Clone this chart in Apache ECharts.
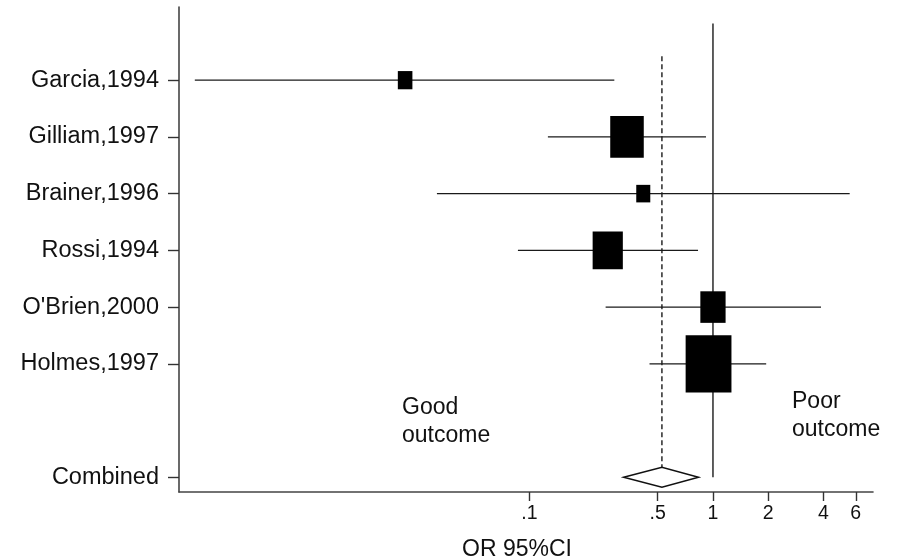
<!DOCTYPE html>
<html>
<head>
<meta charset="utf-8">
<script src="https://cdn.jsdelivr.net/npm/echarts@6/dist/echarts.min.js"></script>
<style>
  html, body { margin: 0; padding: 0; background: #fff; }
  #chart { width: 898px; height: 558px; }
</style>
</head>
<body>
<div id="chart"></div>
<script>
// Study-level odds ratios with 95% confidence intervals
const studies   = ['Garcia,1994', 'Gilliam,1997', 'Brainer,1996', 'Rossi,1994', "O'Brien,2000", 'Holmes,1997'];
const oddsRatio = [0.021, 0.340, 0.417, 0.267, 1.000, 0.946];
const lowerCI   = [0.0015, 0.126, 0.0313, 0.0865, 0.260, 0.451];
const upperCI   = [0.290, 0.916, 5.56, 0.829, 3.88, 1.95];
const weights   = [4.1, 21.7, 3.8, 17.6, 12.3, 40.5];   // percent weight of each study

// Pooled estimate
const combinedLabel = 'Combined';
const combinedOR    = 0.527;
const combinedLower = 0.326;
const combinedUpper = 0.834;

// Axis ticks
const xTicks      = [0.1, 0.5, 1, 2, 4, 6];
const xTickLabels = ['.1', '.5', '1', '2', '4', '6'];

// Row layout: pooled row at 0, one blank row, then studies listed top-down
const studyRows = studies.map((_, i) => studies.length + 1 - i);   // 7..2
const combinedRow = 0;
const rowLabels = {};
studies.forEach((s, i) => { rowLabels[studyRows[i]] = s; });
rowLabels[combinedRow] = combinedLabel;
const labelRows = Object.keys(rowLabels).map(Number);

const INK = '#111';
const FONT = '"Liberation Sans", Arial, Helvetica, sans-serif';
const boxScale = 7.2;

const studyData = studies.map((_, i) => [oddsRatio[i], lowerCI[i], upperCI[i], studyRows[i], weights[i]]);

function renderStudy(params, api) {
  const y = api.value(3);
  const lo = api.coord([api.value(1), y]);
  const hi = api.coord([api.value(2), y]);
  const c  = api.coord([api.value(0), y]);
  const w = boxScale * Math.sqrt(api.value(4));
  const h = w * 1.25;
  return {
    type: 'group',
    children: [
      { type: 'line', shape: { x1: lo[0], y1: lo[1], x2: hi[0], y2: hi[1] },
        style: { stroke: '#1a1a1a', lineWidth: 1.3 } },
      { type: 'rect', shape: { x: c[0] - w / 2, y: c[1] - h / 2, width: w, height: h },
        style: { fill: '#000' } }
    ]
  };
}

function renderDiamond(params, api) {
  const y = api.value(3);
  const c  = api.coord([api.value(0), y]);
  const lo = api.coord([api.value(1), y]);
  const hi = api.coord([api.value(2), y]);
  const half = 10;
  return {
    type: 'polygon',
    shape: { points: [[lo[0], c[1]], [c[0], c[1] - half], [hi[0], c[1]], [c[0], c[1] + half]] },
    style: { fill: '#fff', stroke: '#111', lineWidth: 1.5 }
  };
}

// Vertical reference lines: [x, fromRow, toRow, dashed]
const refLines = [
  [1, combinedRow, 8, 0],
  [combinedOR, combinedRow, 7.45, 1]
];

function renderRef(params, api) {
  const a = api.coord([api.value(0), api.value(1)]);
  const b = api.coord([api.value(0), api.value(2)]);
  const dashed = api.value(3) === 1;
  return {
    type: 'line',
    shape: { x1: a[0], y1: a[1], x2: b[0], y2: b[1] },
    style: { stroke: '#1a1a1a', lineWidth: dashed ? 1.4 : 1.4, lineDash: dashed ? [5, 3] : null }
  };
}

const chart = echarts.init(document.getElementById('chart'), null, { renderer: 'canvas' });

chart.setOption({
  backgroundColor: '#fff',
  animation: false,
  textStyle: { fontFamily: FONT },
  grid: { left: 179, right: 25, top: 7, bottom: 66, outerBoundsMode: 'none', containLabel: false },
  xAxis: {
    type: 'log',
    logBase: 10,
    min: 0.00123,
    max: 7.45,
    name: 'OR 95%CI',
    nameLocation: 'middle',
    nameGap: 46,
    nameTextStyle: { color: INK, fontSize: 23, padding: [0, 18, 0, 0] },
    axisLine: { show: true, onZero: false, lineStyle: { color: '#444', width: 1.6 } },
    axisTick: { show: true, length: 9, customValues: xTicks, lineStyle: { color: '#333', width: 1.4 } },
    axisLabel: {
      customValues: xTicks,
      margin: 12,
      color: INK,
      fontSize: 19.5,
      formatter: v => {
        const i = xTicks.findIndex(t => Math.abs(t - v) / t < 1e-6);
        return i >= 0 ? xTickLabels[i] : '';
      }
    },
    splitLine: { show: false }
  },
  yAxis: {
    type: 'value',
    min: -0.26,
    max: 8.29,
    axisLine: { show: true, onZero: false, lineStyle: { color: '#444', width: 1.6 } },
    axisTick: { show: true, length: 11, customValues: labelRows, lineStyle: { color: '#333', width: 1.4 } },
    axisLabel: {
      customValues: labelRows,
      margin: 20,
      color: INK,
      fontSize: 23.5,
      formatter: v => rowLabels[Math.round(v)] || ''
    },
    splitLine: { show: false }
  },
  series: [
    {
      type: 'custom',
      renderItem: renderRef,
      clip: false,
      encode: { x: 0, y: [1, 2] },
      data: refLines,
      silent: true
    },
    {
      type: 'custom',
      renderItem: renderStudy,
      clip: false,
      encode: { x: [0, 1, 2], y: 3 },
      data: studyData,
      silent: true
    },
    {
      type: 'custom',
      renderItem: renderDiamond,
      clip: false,
      encode: { x: [0, 1, 2], y: 3 },
      data: [[combinedOR, combinedLower, combinedUpper, combinedRow]],
      silent: true
    }
  ],
  graphic: [
    {
      type: 'text', left: 402, top: 394, silent: true,
      style: { text: 'Good\noutcome', fill: INK, fontSize: 23, lineHeight: 28, fontFamily: FONT }
    },
    {
      type: 'text', left: 792, top: 388, silent: true,
      style: { text: 'Poor\noutcome', fill: INK, fontSize: 23, lineHeight: 28, fontFamily: FONT }
    }
  ]
});
</script>
</body>
</html>
